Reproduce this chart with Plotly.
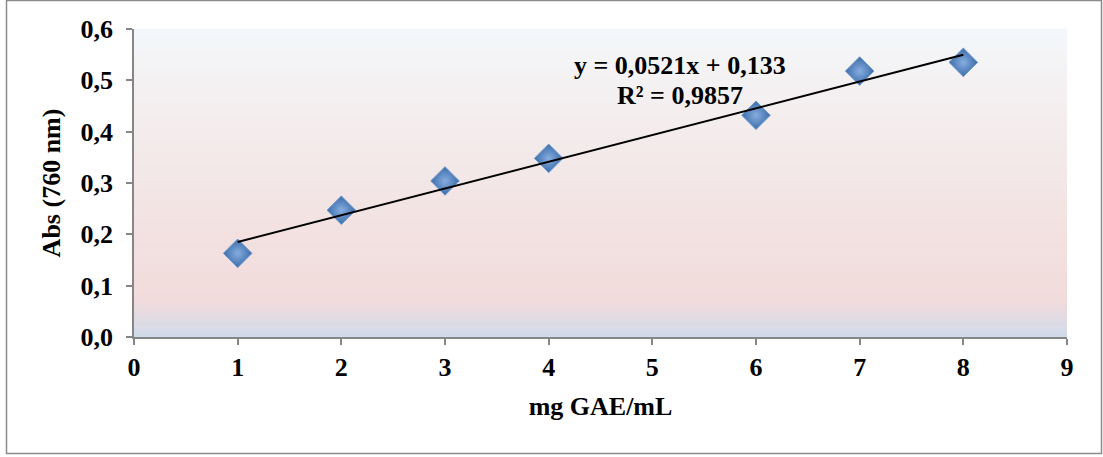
import numpy as np
import plotly.graph_objects as go

# ---- data ----
conc = [1, 2, 3, 4, 6, 7, 8]                      # mg GAE/mL
absorb = [0.163, 0.247, 0.304, 0.348, 0.432, 0.518, 0.535]
slope = 0.0521
intercept = 0.133
r2_text = "R² = 0,9857"
eq_text = "y = 0,0521x + 0,133"
x_ticks = [0, 1, 2, 3, 4, 5, 6, 7, 8, 9]
y_ticks = [0.0, 0.1, 0.2, 0.3, 0.4, 0.5, 0.6]

W, H = 1103, 457
ML, MR, MT, MB = 134, 36, 29, 120

FONT = "Liberation Serif, Times New Roman, serif"
FS = 26

fig = go.Figure()

# trendline from the equation
tx = np.array([min(conc), max(conc)], dtype=float)
ty = slope * tx + intercept

fig.add_trace(go.Scatter(
    x=conc, y=absorb, mode="markers",
    marker=dict(symbol="diamond", size=22, color="#3b6ca8",
                line=dict(color="#6f9bd0", width=1),
                gradient=dict(type="radial", color="#86ade0")),
    showlegend=False, hoverinfo="x+y"))

fig.add_trace(go.Scatter(
    x=tx, y=ty, mode="lines", line=dict(color="black", width=2),
    showlegend=False, hoverinfo="skip"))

# gradient background bands (plot area)
stops = [(0.0, (207, 219, 234)), (0.12, (242, 219, 219)), (0.5, (243, 230, 230)),
         (0.85, (244, 242, 243)), (1.0, (243, 247, 251))]
def col_at(f):
    for (f0, c0), (f1, c1) in zip(stops[:-1], stops[1:]):
        if f0 <= f <= f1:
            t = (f - f0) / (f1 - f0)
            c = [round(a + (b - a) * t) for a, b in zip(c0, c1)]
            return "rgb(%d,%d,%d)" % tuple(c)
    return "rgb(%d,%d,%d)" % stops[-1][1]
N = 100
shapes = []
for i in range(N):
    f0, f1 = i / N, (i + 1) / N
    shapes.append(dict(type="rect", xref="x domain", yref="y domain",
                       x0=0, x1=1, y0=f0, y1=f1 + 0.002, layer="below",
                       line=dict(width=0), fillcolor=col_at((f0 + f1) / 2)))

# outer chart frame
pw, ph = W - ML - MR, H - MT - MB
fx0, fx1 = (6.5 - ML) / pw, (1101.5 - ML) / pw
fy0, fy1 = (H - MB - 453.5) / ph, (H - MB - 0.5) / ph
shapes.append(dict(type="rect", xref="paper", yref="paper", x0=fx0, x1=fx1,
                   y0=fy0, y1=fy1, line=dict(color="#8c8c8c", width=1.5),
                   fillcolor="rgba(0,0,0,0)", layer="above"))

fig.update_layout(
    width=W, height=H, margin=dict(l=ML, r=MR, t=MT, b=MB),
    paper_bgcolor="white", plot_bgcolor="white",
    separators=", ",
    font=dict(family=FONT, size=FS, color="black", weight="bold"),
    shapes=shapes,
    xaxis=dict(range=[0, 9], tickvals=x_ticks, ticks="outside", ticklen=6,
               tickwidth=1.5, tickcolor="#868686", showline=True,
               linecolor="#868686", linewidth=1.5, showgrid=False,
               zeroline=False, ticklabelstandoff=0,
               title=dict(text="mg GAE/mL", standoff=16,
                          font=dict(family=FONT, size=FS, weight="bold"))),
    yaxis=dict(range=[0, 0.6], tickvals=y_ticks, tickformat=".1f",
               ticks="outside", ticklen=6, tickwidth=1.5,
               tickcolor="#868686", showline=True, linecolor="#868686",
               linewidth=1.5, showgrid=False, zeroline=False,
               ticklabelstandoff=8,
               title=dict(text="Abs (760 nm)", standoff=12,
                          font=dict(family=FONT, size=FS, weight="bold"))),
    annotations=[
        dict(x=5.27, y=0.529, xref="x", yref="y", text=eq_text,
             showarrow=False, font=dict(family=FONT, size=FS, weight="bold")),
        dict(x=5.27, y=0.471, xref="x", yref="y", text=r2_text,
             showarrow=False, font=dict(family=FONT, size=FS, weight="bold")),
    ],
)

fig.write_html("out.html", config={"displayModeBar": False},
               post_script="document.body.style.margin='0';document.body.style.overflow='hidden';")
